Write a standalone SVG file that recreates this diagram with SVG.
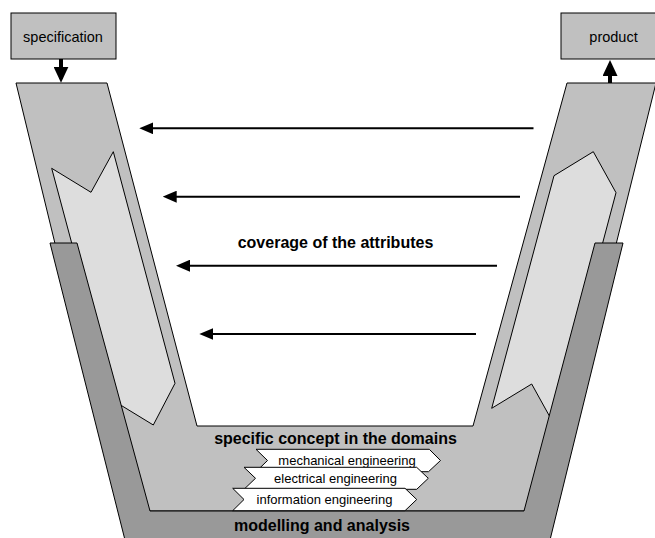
<svg xmlns="http://www.w3.org/2000/svg" width="655" height="538" viewBox="0 0 655 538">
<style>
  .mid{fill:#c0c0c0;stroke:#000;stroke-width:1}
  .light{fill:#dddddd;stroke:#000;stroke-width:1}
  .dark{fill:#999999;stroke:#000;stroke-width:1}
  .chev{fill:#ffffff;stroke:#000;stroke-width:1}
  .box{fill:#c0c0c0;stroke:#000;stroke-width:1}
  .lbl{font-family:"Liberation Sans",Arial,sans-serif;font-size:14.5px;fill:#000;text-anchor:middle}
  .bold{font-family:"Liberation Sans",Arial,sans-serif;font-size:16px;font-weight:bold;fill:#000;text-anchor:middle}
  .small{font-family:"Liberation Sans",Arial,sans-serif;font-size:13px;fill:#000;text-anchor:middle}
  .arr{stroke:#000;stroke-width:2;fill:none}
  .thick{stroke:#000;stroke-width:4;fill:none}
</style>
<defs>
  <marker id="head" markerUnits="userSpaceOnUse" markerWidth="14" markerHeight="12" refX="10" refY="6" orient="auto" viewBox="0 0 14 12">
    <path d="M0,0 L14,6 L0,12 z" fill="#000"/>
  </marker>
  <marker id="bighead" markerUnits="userSpaceOnUse" markerWidth="16" markerHeight="15" refX="12" refY="7.5" orient="auto" viewBox="0 0 16 15">
    <path d="M0,0 L16,7.5 L0,15 z" fill="#000"/>
  </marker>
</defs>

<g id="u-shape">
  <polygon class="mid" points="16,83 107,83 197,426 473,426 567,83 656,83 550,511 120,511"/>
</g>
<g id="left-phase">
  <polygon class="light" points="51.7,168.3 91,192.3 113.3,151.7 175,383.3 153.3,425 114,401"/>
</g>
<g id="right-phase">
  <polygon class="light" points="554,175.7 593.3,151.7 616,192.7 554.4,425 531.7,384 491.7,408.3"/>
</g>
<g id="modelling">
  <polygon class="dark" points="50,243 77,243 150,511 524,511 595,243 623,243 550,540 125,540"/>
  <text class="bold" x="322" y="530.5">modelling and analysis</text>
</g>
<g id="domains">
  <text class="bold" x="335.5" y="444">specific concept in the domains</text>
</g>
<g id="mechanical">
  <polygon class="chev" points="256,449.3 429.3,449.3 440.5,460.5 428.5,471.7 256,471.7 267.5,460.5"/>
  <text class="small" x="347" y="464.5">mechanical engineering</text>
</g>
<g id="electrical">
  <polygon class="chev" points="244,467.3 416.7,467.3 428.3,478.3 416.7,489.3 244,489.3 255.5,478.3"/>
  <text class="small" x="335.5" y="482.8">electrical engineering</text>
</g>
<g id="information">
  <polygon class="chev" points="232.7,488.3 405,488.3 416.7,499.5 405,510.7 232.7,510.7 244,499.5"/>
  <text class="small" x="324.5" y="504">information engineering</text>
</g>
<g id="specification">
  <rect class="box" x="11" y="13" width="105" height="46"/>
  <text class="lbl" x="63" y="41.5">specification</text>
</g>
<g id="product">
  <rect class="box" x="561" y="13" width="96" height="46"/>
  <text class="lbl" x="613.5" y="41.5">product</text>
</g>
<g id="coverage">
  <text class="bold" x="335.5" y="247.5">coverage of the attributes</text>
</g>

<g id="connectors">
  <line class="thick" x1="61" y1="59" x2="61" y2="78.7" marker-end="url(#bighead)"/>
  <line class="thick" x1="610" y1="83" x2="610" y2="64" marker-end="url(#bighead)"/>
  <line class="arr" x1="533.5" y1="128.3" x2="143.3" y2="128.3" marker-end="url(#head)"/>
  <line class="arr" x1="520" y1="196.7" x2="166.7" y2="196.7" marker-end="url(#head)"/>
  <line class="arr" x1="497" y1="265.7" x2="180" y2="265.7" marker-end="url(#head)"/>
  <line class="arr" x1="476" y1="334" x2="203.3" y2="334" marker-end="url(#head)"/>
</g>
</svg>
